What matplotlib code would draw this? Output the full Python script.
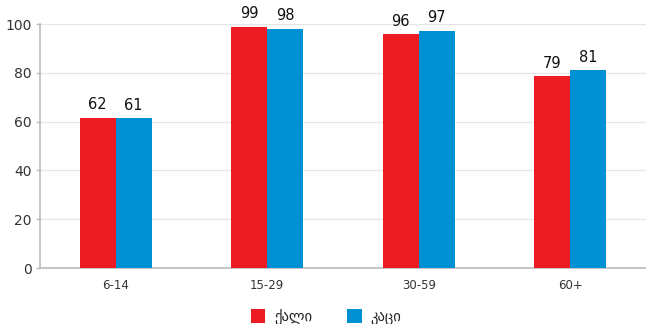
import matplotlib
matplotlib.use("Agg")
import matplotlib.pyplot as plt
import numpy as np

categories = ["6-14", "15-29", "30-59", "60+"]
women = [61.6, 98.8, 95.8, 78.6]
men = [61.3, 98.0, 97.3, 81.0]
women_labels = ["62", "99", "96", "79"]
men_labels = ["61", "98", "97", "81"]
series_names = ["ქალი", "კაცი"]
yticks = [0, 20, 40, 60, 80, 100]

red = "#ED1C24"
blue = "#0090D4"

plt.rcParams['font.family'] = ['DejaVu Sans']
fig = plt.figure(figsize=(6.46, 3.24), dpi=100)
ax = fig.add_axes([40/646, (324-268)/324, 606/646, 244/324])

x = np.arange(len(categories))
w = 0.237
b1 = ax.bar(x - w/2, women, w, color=red, label=series_names[0], zorder=3)
b2 = ax.bar(x + w/2, men, w, color=blue, label=series_names[1], zorder=3)

for rect, lab in zip(b1, women_labels):
    ax.annotate(lab, (rect.get_x() + rect.get_width()/2, rect.get_height()),
                xytext=(0, 4), textcoords="offset points", ha="center", va="bottom",
                fontsize=10.5, color="#111111")
for rect, lab in zip(b2, men_labels):
    ax.annotate(lab, (rect.get_x() + rect.get_width()/2, rect.get_height()),
                xytext=(0, 4), textcoords="offset points", ha="center", va="bottom",
                fontsize=10.5, color="#111111")

ax.set_xlim(-0.5, 3.5)
ax.set_ylim(0, 100)
ax.set_yticks(yticks)
ax.set_xticks(x)
ax.set_xticklabels(categories, fontsize=8.5, color="#333333")
ax.tick_params(axis="y", labelsize=10, colors="#333333", length=3, width=1, color="#bbbbbb", pad=3)
ax.tick_params(axis="x", length=0, pad=8)
ax.yaxis.grid(True, color="#e6e6e6", linewidth=1, zorder=0)
ax.set_axisbelow(True)
for s in ["top", "right"]:
    ax.spines[s].set_visible(False)
ax.spines["left"].set_color("#bbbbbb")
ax.spines["bottom"].set_color("#bbbbbb")
ax.spines["left"].set_linewidth(1.2)
ax.spines["bottom"].set_linewidth(1.2)

leg = fig.legend(handles=[b1, b2], labels=series_names, loc="center",
                 bbox_to_anchor=(326/646, 1 - 317/324), ncol=2, frameon=False,
                 fontsize=10.5, handlelength=1.0, handleheight=1.0, columnspacing=2.4,
                 handletextpad=0.6)
for t in leg.get_texts():
    t.set_color("#222222")

fig.savefig("out.png", dpi=100)
